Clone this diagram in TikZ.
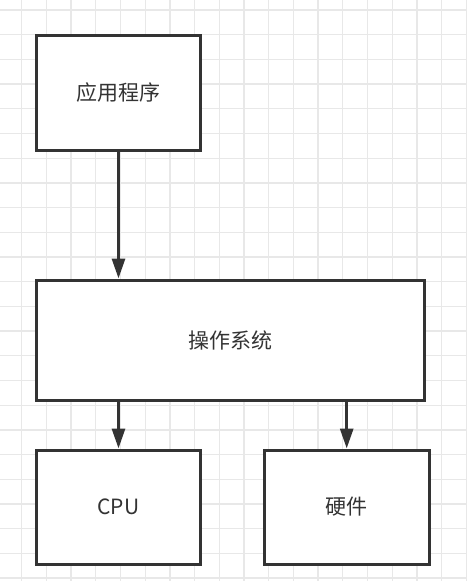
\documentclass[tikz,border=0pt]{standalone}
\usepackage{fontspec}
\newfontfamily\cjk{Noto Sans CJK SC}
\usetikzlibrary{arrows.meta,positioning}

\begin{document}
\begin{tikzpicture}[x=1pt, y=-1pt,
    blk/.style={draw=black!80, line width=3pt, fill=white, text=black!80, font=\cjk\fontsize{21}{25}\selectfont, inner sep=0pt},
    arr/.style={-{Triangle[length=20pt,width=13pt]}, line width=3pt, draw=black!80},
    grd/.style={draw=black!9, line width=1.3pt}
]
\useasboundingbox[fill=white] (0,0) rectangle (467,581);
% grid
\foreach \k in {0,...,18} \draw[grd] (21.7+24.7*\k,0) -- (21.7+24.7*\k,581);
\foreach \k in {0,...,23} \draw[grd] (0,10+24.7*\k) -- (467,10+24.7*\k);

\node[blk, minimum width=164pt, minimum height=115pt] (app) at (118.5,93) {应用程序};
\node[blk, minimum width=388pt, minimum height=120pt] (os) at (230.5,340) {操作系统};
\node[blk, minimum width=164pt, minimum height=114pt] (cpu) at (118.5,507) {CPU};
\node[blk, minimum width=165pt, minimum height=114pt] (hw) at (346.7,507) {硬件};

\draw[arr] (app.south) -- (app.south |- os.north);
\draw[arr] (cpu.north |- os.south) -- (cpu.north);
\draw[arr] (hw.north |- os.south) -- (hw.north);
\end{tikzpicture}
\end{document}
